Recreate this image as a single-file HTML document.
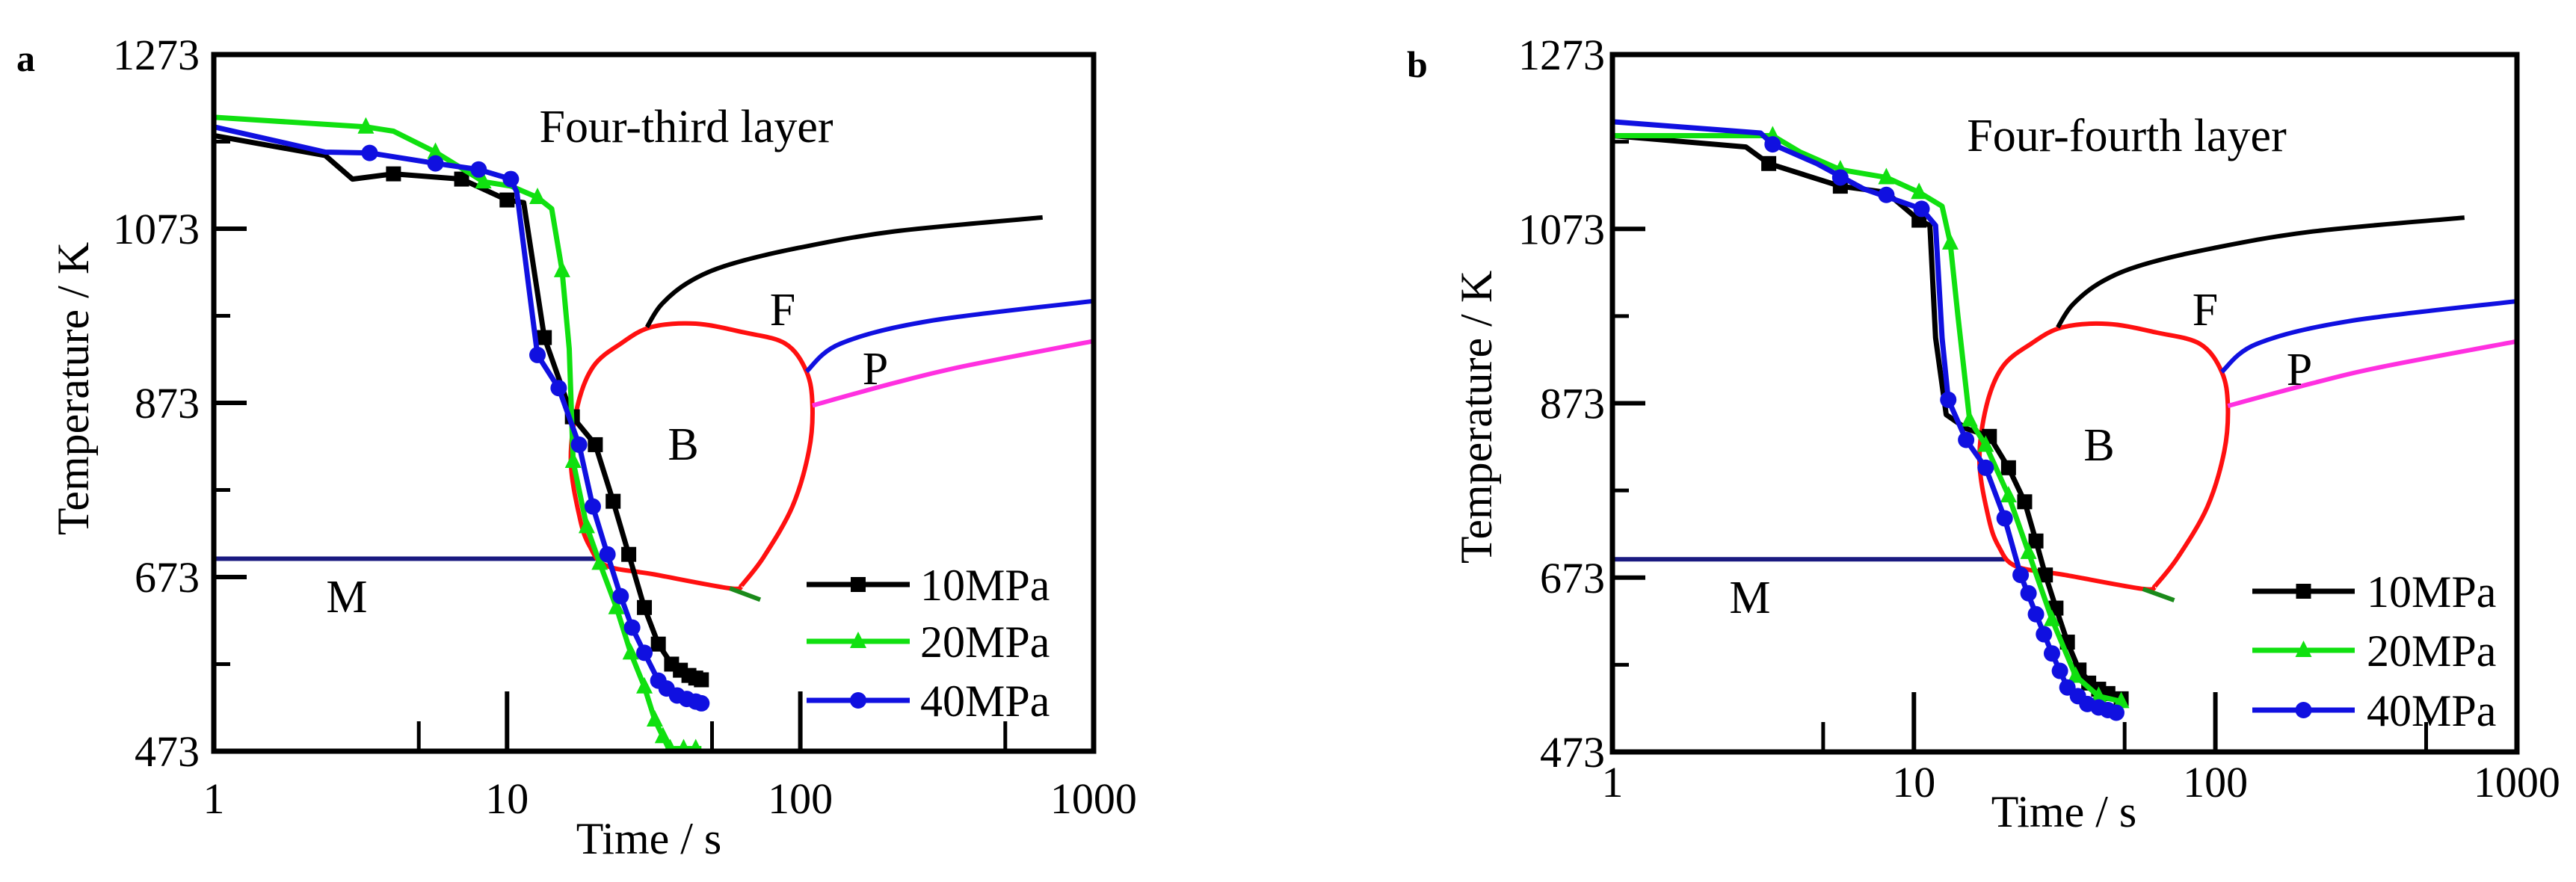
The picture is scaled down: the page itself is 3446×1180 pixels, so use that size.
<!DOCTYPE html>
<html><head><meta charset="utf-8">
<style>
html,body{margin:0;padding:0;background:#fff;}
svg{display:block;font-family:"Liberation Serif","DejaVu Serif",serif;}
</style></head>
<body>
<svg id="fig" width="3446" height="1180" viewBox="0 0 3446 1180" xmlns="http://www.w3.org/2000/svg"></svg>
<script>
// ---- Tick labels ----
const yTicks = [1273, 1073, 873, 673, 473];
const yMinor = [1173, 973, 773, 573];
const xTicks = [1, 10, 100, 1000];
const xMinor = [5, 50, 500];

// ---- Panel a data ----
const aT10 = [1,2.4,2.97,4.1,7,10,11.4,13.4,16.7,20,23,26,29.4,32.8,36.4,41.7,46];
const aV10 = [1180,1157,1130,1136,1130,1106,1103,948,857,825,760,699,638,596,573,560,555];
const aM10t = [4.1,7,10,13.4,16.7,20,23,26,29.4,32.8,36.4,39,41.7,44,46];
const aM10v = [1136,1130,1106,948,857,825,760,699,638,596,573,566,560,557,555];

const aT20 = [1,3.3,4.1,5.7,8.3,10.3,12.7,14.2,15.4,16.3,16.8,18.7,20.7,23.6,26.4,29.4,31.9,35.6,46];
const aV20 = [1201,1190,1185,1161,1127,1122,1109,1096,1025,935,806,731,689,638,586,547,509,476,476];
const aM20t = [3.3,5.7,8.3,12.7,15.4,16.8,18.7,20.7,23.6,26.4,29.4,31.9,34,36,40,44];
const aM20v = [1190,1161,1127,1109,1025,806,731,689,638,586,547,509,490,476,476,476];

const aT40 = [1,2.4,3.4,5.7,8,10.3,10.8,11.8,12.7,15,17.6,19.6,22,24.4,26.7,29.4,32.8,37.6,46];
const aV40 = [1190,1161,1160,1148,1141,1130,1115,1012,928,890,825,754,699,651,615,586,554,538,528];
const aM40t = [3.4,5.7,8,10.3,12.7,15,17.6,19.6,22,24.4,26.7,29.4,32.8,35,38,41,44,46];
const aM40v = [1160,1148,1141,1130,928,890,825,754,699,651,615,586,554,545,537,533,530,528];

// ---- Panel b data ----
const bT10 = [1,2.77,3.3,5.7,8.1,10.4,11.3,11.8,12.8,14.9,17.8,20.6,23.3,25.4,27.3,29.6,32.3,35.3,39.9,48.7];
const bV10 = [1180,1167,1148,1122,1115,1083,1077,948,860,844,835,799,760,715,676,638,599,567,547,534];
const bM10t = [3.3,5.7,10.4,17.8,20.6,23.3,25.4,27.3,29.6,32.3,35.3,38,41,44,48.7];
const bM10v = [1148,1122,1083,835,799,760,715,676,638,599,567,552,545,540,534];

const bT20 = [1,3.4,4.2,5.7,8.1,10.4,12.4,13.2,14,15.3,17.3,20.6,24,28.7,34.4,41,48.7];
const bV20 = [1180,1180,1161,1141,1132,1115,1099,1057,973,854,825,767,702,625,560,537,531];
const bM20t = [3.4,5.7,8.1,10.4,13.2,15.3,17.3,20.6,24,28.7,34.4,41,48.7];
const bM20v = [1180,1141,1132,1115,1057,854,825,767,702,625,560,537,531];

const bT40 = [1,3.1,3.4,4.76,6.8,10.6,11.8,12.4,13,14.9,17.3,20,22.6,25.4,28.7,32.3,37.6,46.9];
const bV40 = [1196,1183,1170,1148,1119,1096,1077,948,877,831,799,741,676,631,586,547,528,518];
const bM40t = [3.4,5.7,8.1,10.6,13,14.9,17.3,20,22.6,24,25.4,27,28.7,30.5,32.3,35,37.6,41,44,46.9];
const bM40v = [1170,1132,1112,1096,877,831,799,741,676,655,631,608,586,566,547,537,528,524,521,518];

// ---- CCT diagram (shared) ----
const mLineT = [1, 20];
const mLineV = [694, 694];
const redT = [63,75,94,107,110,105,89,64,44,31,24.4,19.7,17.4,16.5,17.7,19.1,21.8,31.8,57.5,63];
const redV = [663,696,754,818,870,909,941,954,964,960,941,915,870,806,741,709,686,676,660,663];
const grnT = [57.5, 73];
const grnV = [660, 647];
const fT = [30,33.6,41.8,57.5,98.6,210,670];
const fV = [960,986,1012,1032,1051,1070,1086];
const pBlueT = [105,137,275,1000];
const pBlueV = [909,941,967,990];
const pMagT = [110,210,360,1000];
const pMagV = [870,896,915,944];

const NS = "http://www.w3.org/2000/svg";
const svg = document.getElementById('fig');
function mk(tag, attrs, parent){
  const e = document.createElementNS(NS, tag);
  for (const k in attrs) e.setAttribute(k, attrs[k]);
  (parent||svg).appendChild(e);
  return e;
}
function smoothPath(pts){
  let d = 'M' + pts[0][0].toFixed(1) + ' ' + pts[0][1].toFixed(1);
  for (let i = 0; i < pts.length - 1; i++){
    const p0 = pts[Math.max(0,i-1)], p1 = pts[i], p2 = pts[i+1], p3 = pts[Math.min(pts.length-1,i+2)];
    const c1 = [p1[0] + (p2[0]-p0[0])/6, p1[1] + (p2[1]-p0[1])/6];
    const c2 = [p2[0] - (p3[0]-p1[0])/6, p2[1] - (p3[1]-p1[1])/6];
    d += ` C${c1[0].toFixed(1)} ${c1[1].toFixed(1)} ${c2[0].toFixed(1)} ${c2[1].toFixed(1)} ${p2[0].toFixed(1)} ${p2[1].toFixed(1)}`;
  }
  return d;
}

function panel(cfg){
  const g = mk('g', {});
  
  
  const X = t => cfg.x0 + Math.log10(t) * cfg.dec;
  const Y = v => cfg.yb - (v - 473) / 800 * (cfg.yb - cfg.yt);
  const clip = 'clip-' + cfg.name;
  const cp = mk('clipPath', {id: clip}, g);
  mk('rect', {x: cfg.x0, y: cfg.yt, width: cfg.x1 - cfg.x0, height: cfg.yb - cfg.yt}, cp);
  const plot = mk('g', {'clip-path': 'url(#' + clip + ')'}, g);
  
  

  function line(ts, vs, color, w, name, smooth){
    const pts = ts.map((t,i) => [X(t), Y(vs[i])]);
    const d = smooth ? smoothPath(pts) : pts.map((p,i) => (i?'L':'M') + p[0].toFixed(1) + ' ' + p[1].toFixed(1)).join(' ');
    const p = mk('path', {d: d, fill: 'none', stroke: color, 'stroke-width': w, 'stroke-linejoin': 'round'}, plot);
    
    
  }
  function marker(x, y, type, color, parent){
    let e;
    if (type === 's') e = mk('rect', {x: x-10, y: y-10, width: 20, height: 20, fill: color}, parent);
    else if (type === 't') e = mk('polygon', {points: `${x},${y-13} ${x-11},${y+9} ${x+11},${y+9}`, fill: color}, parent);
    else e = mk('circle', {cx: x, cy: y, r: 11, fill: color}, parent);
    
    
  }
  // CCT
  line(mLineT, mLineV, '#1a1a80', 6, 'martensite-start-line', false);
  line(redT, redV, '#ff1010', 6, 'bainite-region-curve', true);
  line(grnT, grnV, '#1a8a1a', 6, 'bainite-end-tail', false);
  line(fT, fV, '#000', 6, 'ferrite-start-curve', true);
  line(pBlueT, pBlueV, '#1010e0', 6, 'pearlite-start-curve', true);
  line(pMagT, pMagV, '#ff30e0', 6, 'pearlite-end-curve', true);
  // series
  const ser = [
    [cfg.t10, cfg.v10, cfg.m10t, cfg.m10v, '#000', 's', 'series-10mpa'],
    [cfg.t20, cfg.v20, cfg.m20t, cfg.m20v, '#10e010', 't', 'series-20mpa'],
    [cfg.t40, cfg.v40, cfg.m40t, cfg.m40v, '#1010e0', 'c', 'series-40mpa'],
  ];
  ser.forEach(s => {
    line(s[0], s[1], s[4], 7, s[6] + '-line', false);
    const mg = mk('g', {}, plot);
    
    
    s[2].forEach((t,i) => marker(X(t), Y(s[3][i]), s[5], s[4], mg));
  });
  // frame
  const fr = mk('rect', {x: cfg.x0, y: cfg.yt, width: cfg.x1-cfg.x0, height: cfg.yb-cfg.yt, fill: 'none', stroke: '#000', 'stroke-width': 7}, g);
  
  
  // y ticks
  yTicks.forEach(v => {
    const y = Y(v);
    if (v !== 1273 && v !== 473) mk('line', {x1: cfg.x0, x2: cfg.x0+44, y1: y, y2: y, stroke: '#000', 'stroke-width': 6}, g);
    const tx = mk('text', {x: cfg.ylx, y: y + 20, 'font-size': 58, 'text-anchor': 'end', fill: '#000'}, g);
    tx.textContent = v;
    
    
  });
  yMinor.forEach(v => mk('line', {x1: cfg.x0, x2: cfg.x0+22, y1: Y(v), y2: Y(v), stroke: '#000', 'stroke-width': 5}, g));
  xTicks.forEach(t => {
    const x = X(t);
    if (t !== 1 && t !== 1000) mk('line', {x1: x, x2: x, y1: cfg.yb, y2: cfg.yb-80, stroke: '#000', 'stroke-width': 6}, g);
    const tx = mk('text', {x: x, y: cfg.xly, 'font-size': 58, 'text-anchor': 'middle', fill: '#000'}, g);
    tx.textContent = t;
    
    
  });
  xMinor.forEach(t => mk('line', {x1: X(t), x2: X(t), y1: cfg.yb, y2: cfg.yb-40, stroke: '#000', 'stroke-width': 5}, g));
  // axis titles
  const yt = mk('text', {x: 0, y: 0, 'font-size': 60, 'text-anchor': 'middle', transform: `translate(${cfg.ytx},${cfg.yty}) rotate(-90)`}, g);
  yt.textContent = 'Temperature / K';
  
  
  const xt = mk('text', {x: cfg.xtx, y: cfg.xty, 'font-size': 60, 'text-anchor': 'middle'}, g);
  xt.textContent = 'Time / s';
  
  
  // panel letter
  const pl = mk('text', {x: cfg.lx, y: cfg.ly, 'font-size': 50, 'font-weight': 'bold'}, g);
  pl.textContent = cfg.letter;
  
  
  // annotations
  const ann = [[cfg.title, cfg.tx, cfg.ty, 'panel-title'], ['F', cfg.fx, cfg.fy, 'label-f'], ['P', cfg.px, cfg.py, 'label-p'], ['B', cfg.bx, cfg.by, 'label-b'], ['M', cfg.mx, cfg.my, 'label-m']];
  ann.forEach(a => {
    const e = mk('text', {x: a[1], y: a[2] + 21, 'font-size': 62, 'text-anchor': 'middle'}, g);
    e.textContent = a[0];
    
    
  });
  // legend
  const lg = mk('g', {}, g);
  
  
  [['10MPa','#000','s'],['20MPa','#10e010','t'],['40MPa','#1010e0','c']].forEach((e,i) => {
    const y = cfg.legY[i];
    const eg = mk('g', {}, lg);
    
    
    mk('line', {x1: cfg.legX0, x2: cfg.legX1, y1: y, y2: y, stroke: e[1], 'stroke-width': 7}, eg);
    marker((cfg.legX0+cfg.legX1)/2, y, e[2], e[1], eg);
    const t = mk('text', {x: cfg.legTx, y: y + 21, 'font-size': 60}, eg);
    t.textContent = e[0];
  });
}

panel({name:'panel-a', letter:'a', x0:286, x1:1463, dec:392.3, yt:73, yb:1005,
  t10:aT10, v10:aV10, m10t:aM10t, m10v:aM10v, t20:aT20, v20:aV20, m20t:aM20t, m20v:aM20v, t40:aT40, v40:aV40, m40t:aM40t, m40v:aM40v,
  ylx:267, xly:1088, ytx:118, yty:520, xtx:868, xty:1142, lx:22, ly:95,
  title:'Four-third layer', tx:918, ty:169, fx:1047, fy:414, px:1171, py:493, bx:914, by:594, mx:464, my:798,
  legY:[782,858,937], legX0:1079, legX1:1217, legTx:1231});
panel({name:'panel-b', letter:'b', x0:2157, x1:3367, dec:403.3, yt:73, yb:1006,
  t10:bT10, v10:bV10, m10t:bM10t, m10v:bM10v, t20:bT20, v20:bV20, m20t:bM20t, m20v:bM20v, t40:bT40, v40:bV40, m40t:bM40t, m40v:bM40v,
  ylx:2147, xly:1066, ytx:1995, yty:558, xtx:2761, xty:1106, lx:1882, ly:103,
  title:'Four-fourth layer', tx:2845, ty:181, fx:2950, fy:414, px:3076, py:494, bx:2808, by:595, mx:2341, my:799,
  legY:[791,870,950], legX0:3013, legX1:3150, legTx:3166});
</script>
</body></html>
